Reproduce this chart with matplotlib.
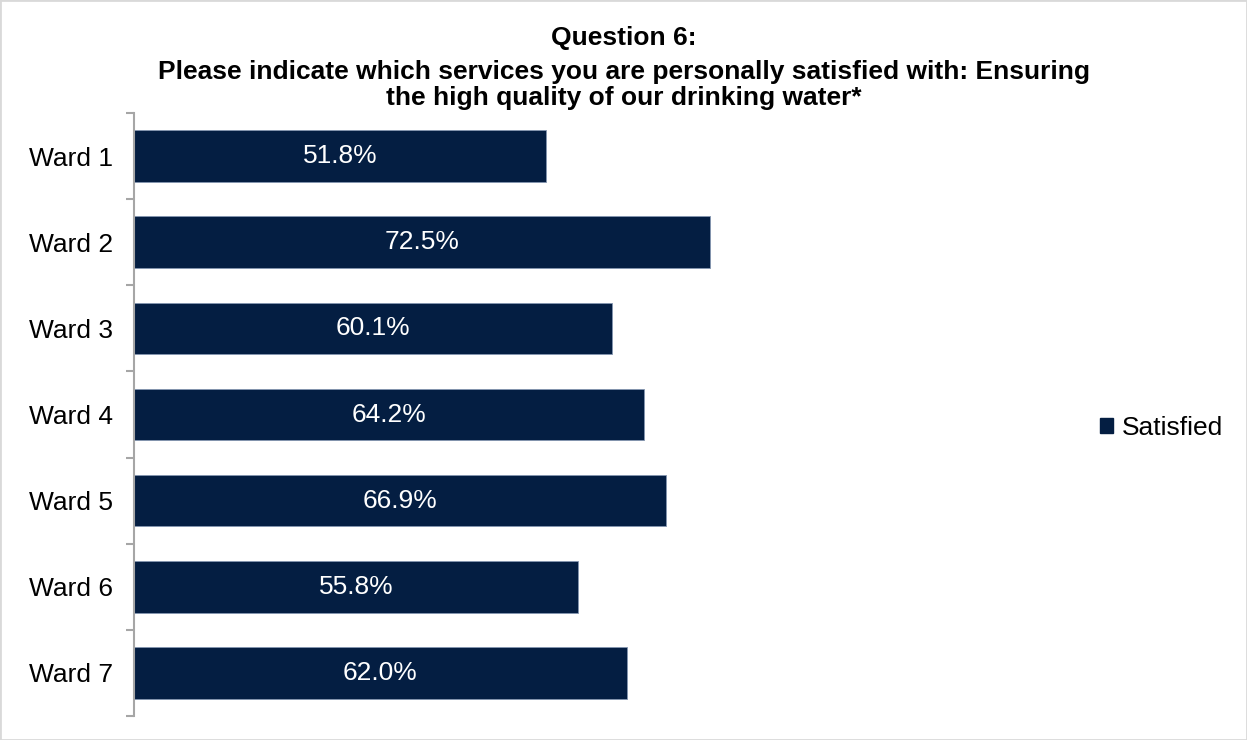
import matplotlib.pyplot as plt
from matplotlib.patches import Patch

plt.rcParams['font.family'] = ['Liberation Sans', 'DejaVu Sans']

wards = ['Ward 1', 'Ward 2', 'Ward 3', 'Ward 4', 'Ward 5', 'Ward 6', 'Ward 7']
satisfied = [51.8, 72.5, 60.1, 64.2, 66.9, 55.8, 62.0]
title_lines = ['Question 6:',
               'Please indicate which services you are personally satisfied with: Ensuring',
               'the high quality of our drinking water*']

navy = '#041E42'
W, H = 1247, 740
fs = 19

fig = plt.figure(figsize=(W / 100, H / 100), dpi=100)
fig.patches.append(plt.Rectangle((0, 0), 1, 1, transform=fig.transFigure,
                                 fill=False, edgecolor='#d9d9d9', linewidth=2))

# axes box in pixel terms: spine at x=134, 100% at x=929, y from 113 to 716
ax = fig.add_axes([134 / W, 1 - 716 / H, (929 - 134) / W, (716 - 113) / H])

ypos = list(range(len(wards)))
bars = ax.barh(ypos, satisfied, height=0.6, color=navy,
               edgecolor='#8496b0', linewidth=0.6)
for rect, v in zip(bars, satisfied):
    ax.text(v / 2, rect.get_y() + rect.get_height() / 2, f'{v:.1f}%',
            ha='center', va='center', color='white', fontsize=fs)

ax.set_xlim(0, 100)
ax.set_ylim(len(wards) - 0.5, -0.5)
ax.set_yticks(ypos)
ax.set_yticklabels(wards, fontsize=fs)
ax.tick_params(axis='y', length=0, pad=15)
ax.set_yticks([i - 0.5 for i in range(len(wards) + 1)], minor=True)
ax.tick_params(axis='y', which='minor', length=6, color='#a6a6a6', width=1.5)
ax.set_xticks([])
for side in ['top', 'right', 'bottom']:
    ax.spines[side].set_visible(False)
ax.spines['left'].set_color('#a6a6a6')
ax.spines['left'].set_linewidth(1.5)

for line, ypx in zip(title_lines, [38, 72, 98]):
    fig.text(0.5, 1 - ypx / H, line, ha='center', va='center',
             fontsize=fs, fontweight='bold')

fig.legend(handles=[Patch(color=navy, label='Satisfied')],
           loc='center left', bbox_to_anchor=(1076 / W, 1 - 428 / H),
           frameon=False, fontsize=fs, handlelength=0.5, handleheight=0.5,
           handletextpad=0.35)

fig.savefig('out.png', dpi=100)
